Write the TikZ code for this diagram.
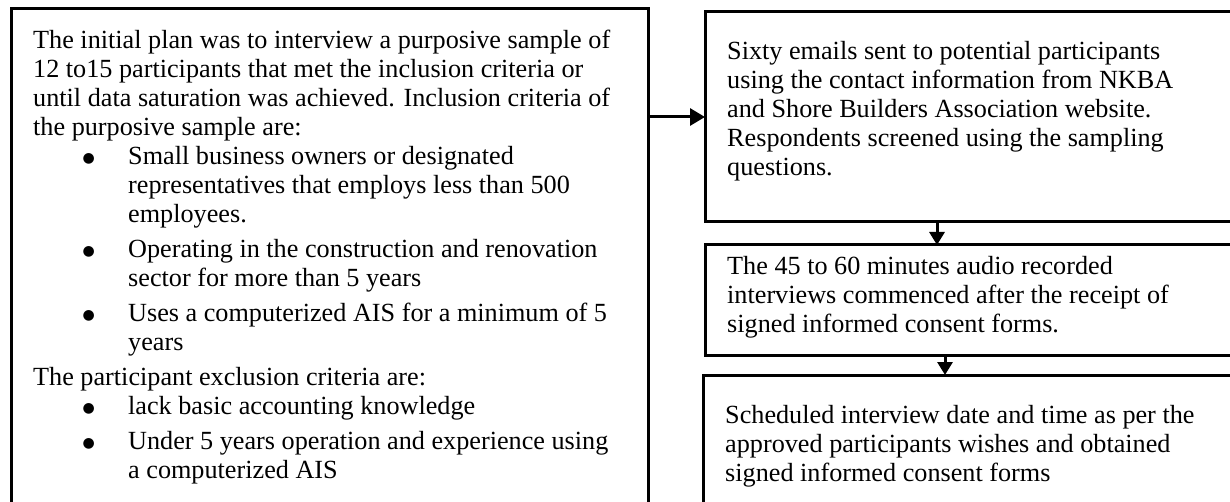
\documentclass[tikz,border=0pt]{standalone}
\usepackage{fontspec}
\setmainfont{Liberation Serif}
\newfontfamily\markfont{DejaVu Sans}
\usetikzlibrary{arrows.meta}
% bullet line and continuation line of an indented list entry
\newcommand{\itemmark}{\makebox[95pt][l]{\hspace{49.5pt}\raisebox{2.5pt}{\markfont\fontsize{14}{14}\selectfont ●}}}
\newcommand{\itemcont}{\makebox[95pt]{}}
\begin{document}
\begin{tikzpicture}[x=1pt,y=-1pt,
  frame/.style={draw=black, line width=3pt, inner sep=0pt, outer sep=0pt, anchor=north west},
  body/.style={inner sep=0pt, anchor=north west, align=left,
               font=\fontsize{26.2}{29}\selectfont},
  flow/.style={draw=black, line width=3pt, -{Triangle[length=13pt,width=15pt]}},
  sideflow/.style={flow, -{Triangle[length=15pt,width=17pt]}}]
  \useasboundingbox (0,0) rectangle (1230,502);
  \fill[white] (0,0) rectangle (1230,502);
  \clip (0,0) rectangle (1230,502);

  % left panel: sampling plan and criteria
  \node[frame, minimum width=637pt, minimum height=530pt] (plan) at (11,9) {};
  \node[body] (plantext) at (33,30) {%
    The initial plan was to interview a purposive sample of\\
    12 to15 participants that met the inclusion criteria or\\
    until data saturation was achieved. Inclusion criteria of\\
    the purposive sample are:\\
    \itemmark Small business owners or designated\\
    \itemcont representatives that employs less than 500\\
    \itemcont employees.\\[6pt]
    \itemmark Operating in the construction and renovation\\
    \itemcont sector for more than 5 years\\[6pt]
    \itemmark Uses a computerized AIS for a minimum of 5\\
    \itemcont years\\[6pt]
    The participant exclusion criteria are:\\
    \itemmark lack basic accounting knowledge\\[6pt]
    \itemmark Under 5 years operation and experience using\\
    \itemcont a computerized AIS};

  % right column: recruitment steps
  \node[frame, minimum width=540pt, minimum height=210pt] (emails) at (705,12) {};
  \node[body] (emailstext) at (727,41) {%
    Sixty emails sent to potential participants\\
    using the contact information from NKBA\\
    and Shore Builders Association website.\\
    Respondents screened using the sampling\\
    questions.};

  \node[frame, minimum width=540pt, minimum height=110pt] (interviews) at (705,245) {};
  \node[body] (interviewstext) at (727,256) {%
    The 45 to 60 minutes audio recorded\\
    interviews commenced after the receipt of\\
    signed informed consent forms.};

  \node[frame, minimum width=545pt, minimum height=170pt] (schedule) at (703,375) {};
  \node[body] (scheduletext) at (725,405) {%
    Scheduled interview date and time as per the\\
    approved participants wishes and obtained\\
    signed informed consent forms};

  % connectors
  \coordinate (colA) at (937,0);
  \coordinate (colB) at (945,0);
  \draw[sideflow] (plan.east |- emails.west) -- (emails.west);
  \draw[flow] (emails.south -| colA) -- (interviews.north -| colA);
  \draw[flow] (interviews.south -| colB) -- (schedule.north -| colB);
\end{tikzpicture}
\end{document}
